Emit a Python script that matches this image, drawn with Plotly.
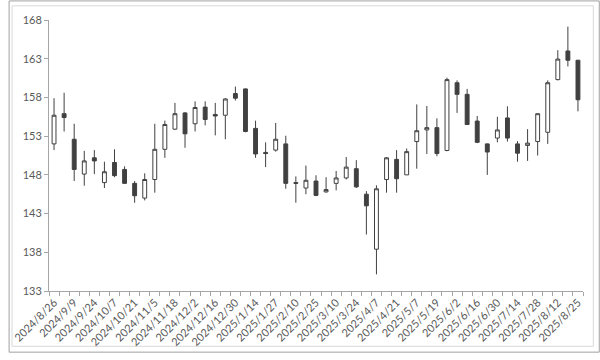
import plotly.graph_objects as go

dates = ["2024/8/26", "2024/9/2", "2024/9/9", "2024/9/17", "2024/9/24", "2024/9/30",
         "2024/10/7", "2024/10/15", "2024/10/21", "2024/10/28", "2024/11/5", "2024/11/11",
         "2024/11/18", "2024/11/25", "2024/12/2", "2024/12/9", "2024/12/16", "2024/12/23",
         "2024/12/30", "2025/1/6", "2025/1/14", "2025/1/20", "2025/1/27", "2025/2/3",
         "2025/2/10", "2025/2/17", "2025/2/25", "2025/3/3", "2025/3/10", "2025/3/17",
         "2025/3/24", "2025/3/31", "2025/4/7", "2025/4/14", "2025/4/21", "2025/4/28",
         "2025/5/7", "2025/5/12", "2025/5/19", "2025/5/26", "2025/6/2", "2025/6/9",
         "2025/6/16", "2025/6/23", "2025/6/30", "2025/7/7", "2025/7/14", "2025/7/22",
         "2025/7/28", "2025/8/4", "2025/8/12", "2025/8/18", "2025/8/25"]

open_ = [152.0, 155.9, 152.6, 148.1, 150.2, 147.0, 149.6, 148.7, 146.9, 145.0,
         147.4, 151.3, 153.9, 156.0, 154.6, 156.75, 155.8, 155.7, 158.5, 159.1,
         154.0, 150.9, 151.2, 152.0, 147.0, 146.3, 147.2, 145.8, 146.9, 147.6,
         148.8, 145.5, 138.4, 147.4, 150.0, 148.0, 152.3, 153.8, 154.1, 151.15,
         159.9, 158.4, 154.95, 152.0, 152.75, 155.35, 152.0, 151.8, 152.3, 153.5,
         160.3, 164.0, 162.8]
high = [157.9, 158.6, 154.6, 151.1, 151.2, 149.7, 151.3, 149.1, 147.2, 148.2,
        154.6, 155.0, 157.3, 156.1, 157.5, 157.5, 157.3, 157.9, 159.4, 159.15,
        155.0, 152.2, 154.7, 153.05, 147.8, 149.2, 147.95, 147.7, 148.5, 150.3,
        149.9, 145.9, 146.65, 150.3, 151.2, 151.4, 157.1, 156.9, 155.3, 160.55,
        160.2, 159.1, 155.6, 152.05, 155.5, 156.85, 152.35, 153.9, 155.9, 160.2,
        164.1, 167.15, 162.85]
low = [151.2, 153.6, 147.2, 146.6, 148.1, 146.3, 147.7, 146.85, 144.4, 144.7,
       145.7, 150.2, 153.8, 151.5, 153.6, 154.4, 153.1, 152.6, 157.6, 153.5,
       150.2, 149.0, 151.0, 146.2, 144.4, 145.5, 145.25, 145.7, 146.0, 147.4,
       146.3, 140.3, 135.15, 145.7, 145.7, 148.0, 148.8, 150.7, 150.4, 151.05,
       156.0, 154.45, 152.1, 148.0, 152.2, 152.3, 149.7, 149.8, 150.5, 152.0,
       160.2, 162.0, 156.2]
close = [155.7, 155.4, 148.7, 149.8, 149.8, 148.4, 147.9, 146.9, 145.3, 147.4,
         151.3, 154.5, 155.9, 153.3, 156.7, 155.15, 155.6, 157.8, 157.9, 153.6,
         150.7, 150.75, 152.6, 146.9, 146.9, 147.3, 145.35, 146.1, 147.6, 149.0,
         146.45, 144.0, 146.2, 150.2, 147.5, 151.0, 153.7, 154.1, 150.75, 160.3,
         158.4, 154.5, 152.2, 150.95, 153.8, 152.75, 150.8, 152.1, 155.9, 159.9,
         162.95, 162.8, 157.7]

y_ticks = [133, 138, 143, 148, 153, 158, 163, 168]
x_ticktext = [d if i % 2 == 0 else "" for i, d in enumerate(dates)]

dark = "#404040"
axis_col = "#a6a6a6"
font_col = "#595959"

fig = go.Figure(go.Candlestick(
    x=dates, open=open_, high=high, low=low, close=close,
    increasing=dict(line=dict(color=dark, width=1), fillcolor="white"),
    decreasing=dict(line=dict(color=dark, width=1), fillcolor=dark),
    whiskerwidth=0, showlegend=False,
))

L, R, T, B = 41, 17, 20, 63
W, H = 600, 360
pw, ph = W - L - R, H - T - B

def px(x):
    return (x - L) / pw

def py(y):
    return (H - B - y) / ph

fig.update_layout(
    width=W, height=H,
    margin=dict(l=L, r=R, t=T, b=B, pad=0),
    paper_bgcolor="white", plot_bgcolor="white",
    font=dict(family="Lato, Open Sans, sans-serif", size=11, color=font_col),
    boxgap=0.45,
    xaxis=dict(
        type="category", rangeslider=dict(visible=False),
        tickmode="array", tickvals=dates, ticktext=x_ticktext,
        tickson="boundaries", ticks="outside", ticklen=4, tickcolor=axis_col,
        tickangle=-45, showgrid=False, showline=True, linecolor=axis_col,
        linewidth=1, zeroline=False,
        range=[-0.5, len(dates) - 0.5],
    ),
    yaxis=dict(
        range=[133, 168], tickmode="array", tickvals=y_ticks,
        ticks="outside", ticklen=4, tickcolor=axis_col,
        showgrid=False, showline=True, linecolor=axis_col, linewidth=1,
        zeroline=False,
    ),
    shapes=[
        dict(type="rect", xref="paper", yref="paper",
             x0=px(0.5), x1=px(599.5), y0=py(0.5), y1=py(359.5),
             line=dict(color="#a0a0a0", width=1), layer="above"),
        dict(type="rect", xref="paper", yref="paper",
             x0=px(3.5), x1=px(593.5), y0=py(5.5), y1=py(353.5),
             line=dict(color="#d9d9d9", width=1), layer="above"),
    ],
)

fig.write_html("out.html")
